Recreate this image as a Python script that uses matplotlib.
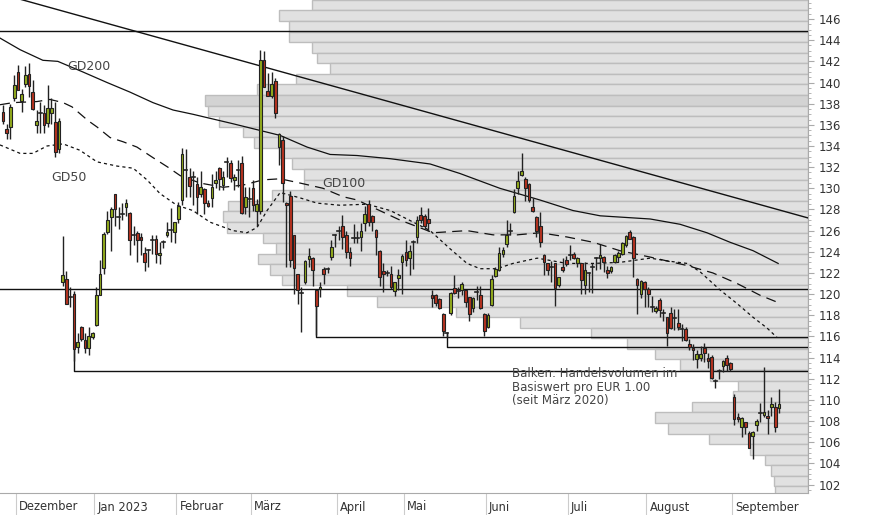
import matplotlib
matplotlib.use("Agg")
import matplotlib.pyplot as plt
from matplotlib.patches import Rectangle
from matplotlib.ticker import MultipleLocator
import pandas as pd
import numpy as np

# ---- data ----
ohlc = [
(137.2,137.9,136.1,136.4),(135.65,136.1,134.7,135.2),(135.8,138.0,134.7,137.7),(138.5,140.7,138.3,139.8),
(141.0,141.7,139.3,139.3),(138.3,139.4,137.2,138.9),(139.9,141.6,139.6,140.7),(140.8,141.8,138.6,139.7),
(139.1,140.2,137.4,137.5),(136.0,137.4,135.2,136.4),(137.1,138.2,135.2,137.1),(137.1,137.9,135.2,136.0),
(136.2,139.8,135.8,137.6),(137.1,138.5,136.1,137.6),(136.3,138.2,133.0,133.4),(133.7,136.6,133.3,136.4),
(121.1,125.5,120.8,121.8),(121.4,122.2,119.1,119.1),(119.7,120.7,118.8,119.7),(120.0,120.3,113.7,114.8),
(115.0,116.3,114.4,115.5),(116.9,117.0,115.6,115.8),(115.7,116.3,114.4,114.9),(114.9,116.9,114.2,116.0),
(115.9,116.4,115.8,116.3),(117.1,120.7,117.0,119.9),(119.9,123.2,119.9,121.9),(122.5,125.9,121.9,125.7),
(125.9,127.9,125.7,127.0),(127.3,128.2,124.1,128.0),(129.5,129.5,126.4,128.0),(127.3,128.2,126.2,127.3),
(127.6,128.6,127.0,127.6),(128.2,129.0,127.4,128.6),(127.7,127.8,123.7,125.1),(125.6,126.4,124.6,125.6),
(125.8,126.0,123.0,125.1),(125.4,125.8,123.7,125.1),(123.9,124.5,122.2,123.0),(124.2,124.3,122.6,124.2),
(125.2,125.6,123.8,125.1),(125.2,125.6,122.9,123.8),(123.7,124.9,122.8,123.9),(124.9,125.1,124.4,124.9),
(125.6,126.8,125.4,125.9),(126.1,128.1,124.9,126.1),(125.9,126.8,124.8,126.8),(127.1,128.7,126.7,128.3),
(128.9,133.8,128.4,133.2),(131.7,133.7,129.2,131.7),(131.1,131.9,129.2,130.2),(131.1,131.6,128.4,131.1),
(130.4,131.1,127.6,129.2),(129.5,131.6,129.2,130.1),(129.9,130.0,127.6,128.6),(128.6,128.9,128.2,128.3),
(129.1,131.4,128.2,130.1),(130.5,131.6,130.0,130.8),(131.9,132.0,129.8,130.9),(130.3,131.6,129.8,131.1),
(132.5,133.0,131.1,132.5),(132.4,132.7,130.6,131.0),(130.8,131.4,129.8,131.1),(131.7,132.7,130.1,131.7),
(132.4,133.1,127.6,127.7),(128.2,130.1,127.6,129.2),(129.0,130.1,127.3,129.0),(130.0,130.8,127.9,128.4),
(127.9,129.0,126.4,128.5),(127.9,143.1,127.6,142.1),(142.1,143.0,139.6,139.6),(139.2,140.9,138.7,138.7),
(138.7,141.0,138.5,139.9),(140.1,140.4,136.6,137.1),(133.9,135.2,132.2,135.1),(134.6,134.9,128.7,130.5),
(128.6,128.7,122.6,128.4),(129.3,129.7,122.6,123.2),(125.6,125.6,120.0,122.5),(121.9,121.9,119.1,120.4),
(120.1,120.7,116.4,120.1),(121.1,123.2,121.0,123.1),(123.3,124.4,122.6,123.6),(123.4,123.5,120.8,122.3),
(120.4,120.4,116.1,118.9),(120.5,121.1,119.7,120.7),(122.4,122.6,121.0,121.9),(122.4,122.6,122.0,122.4),
(123.5,125.1,123.2,124.5),(125.6,125.7,124.5,125.6),(126.0,126.4,125.1,126.0),(126.4,127.5,124.3,125.4),
(125.6,126.0,123.4,124.0),(124.0,124.5,122.7,123.4),(125.2,126.6,124.8,125.3),(125.3,126.0,124.8,125.3),
(125.4,126.7,124.1,126.0),(126.7,128.3,126.0,127.6),(128.5,128.9,126.4,126.8),(127.4,127.5,126.0,126.8),
(126.1,126.2,123.7,125.4),(124.1,124.2,120.8,121.6),(122.2,122.9,120.2,121.9),(122.0,122.3,121.7,122.0),
(121.9,122.7,120.5,120.7),(120.3,121.1,119.8,121.1),(121.5,122.4,120.4,121.8),(123.0,123.8,120.0,123.6),
(124.0,125.1,122.7,123.2),(123.4,124.6,121.8,124.1),(124.9,125.1,122.4,124.9),(125.4,127.4,124.8,127.0),
(127.5,128.2,126.7,127.0),(127.4,127.6,126.2,126.4),(127.1,128.1,126.0,126.7),(119.9,120.4,118.8,119.6),
(119.9,120.0,118.9,119.2),(119.5,119.6,118.6,118.7),(118.1,118.2,116.0,116.5),(116.3,116.4,115.9,116.3),
(118.2,120.2,118.0,120.1),(120.6,121.8,120.0,120.1),(120.3,120.7,119.6,120.3),(120.4,121.1,119.9,121.0),
(120.4,120.4,118.8,119.3),(119.7,119.7,117.5,118.1),(118.7,119.7,118.3,119.6),(120.2,120.8,119.4,120.2),
(119.9,120.8,118.6,118.7),(118.1,118.2,116.0,116.5),(116.9,118.2,116.8,118.0),(119.0,121.8,118.9,121.4),
(121.7,122.6,121.6,122.4),(122.3,124.5,122.2,123.9),(123.8,124.5,123.5,124.2),(124.7,127.0,124.5,125.6),
(126.0,126.7,125.6,126.0),(127.8,129.9,127.7,129.3),(130.0,131.6,129.5,130.7),(131.3,133.3,131.2,131.6),
(130.9,131.1,128.8,130.0),(130.4,130.5,128.7,128.9),(128.2,129.1,127.8,127.9),(127.3,127.4,125.4,126.0),
(126.4,127.8,124.5,124.9),(123.7,123.8,121.8,123.0),(122.9,122.9,121.8,122.3),(122.6,123.1,121.1,122.6),
(122.9,122.9,118.9,120.6),(120.9,121.6,120.7,121.6),(122.6,123.4,122.1,122.3),(123.2,123.6,122.7,122.8),
(123.7,124.6,123.2,123.7),(123.8,124.0,123.3,123.4),(122.9,123.5,122.6,123.4),(122.9,122.9,120.0,121.3),
(120.9,123.0,120.0,122.3),(122.0,122.1,120.2,122.0),(122.6,122.9,120.1,122.6),(123.3,123.5,122.3,123.4),
(123.4,124.7,122.4,123.7),(123.5,123.6,122.1,123.0),(122.3,122.7,121.5,122.0),(122.2,122.7,122.0,122.6),
(123.0,123.8,122.9,123.7),(123.5,124.1,123.0,123.9),(123.8,124.9,123.7,124.8),(124.6,125.6,124.5,125.5),
(125.9,126.1,125.2,125.2),(125.4,125.5,121.6,123.4),(121.4,121.5,118.1,120.9),(120.0,121.3,119.6,121.2),
(121.1,121.2,118.8,120.5),(120.5,120.7,118.8,120.0),(118.8,119.8,118.3,118.8),(118.4,118.9,118.2,118.7),
(119.4,119.6,117.8,118.5),(118.2,118.6,117.5,118.2),(117.8,117.8,115.1,116.3),(118.2,118.8,116.7,116.8),
(117.7,118.6,116.6,117.7),(117.3,118.6,116.6,116.9),(116.7,117.2,115.6,116.7),(116.7,116.9,115.6,115.7),
(115.3,115.8,114.7,115.0),(114.9,115.3,113.8,114.7),(113.9,114.7,113.0,114.3),(114.0,115.1,113.7,114.3),
(114.9,115.4,113.6,114.4),(114.0,114.4,113.0,113.7),(114.1,114.2,112.0,112.1),(111.8,112.0,111.1,111.8),
(112.7,112.9,112.0,112.7),(113.2,113.8,112.6,113.7),(114.0,114.2,112.7,113.3),(113.5,113.6,112.7,112.9),
(110.3,110.6,107.6,108.2),(108.4,108.8,107.9,108.2),(107.4,108.4,106.5,108.3),(107.9,107.9,106.8,107.4),
(106.9,107.1,105.5,105.5),(106.6,107.1,104.4,107.0),(107.6,108.2,107.1,108.0),(108.8,109.7,107.9,108.8),
(108.6,113.1,108.4,108.9),(108.5,109.0,106.8,108.3),(109.3,110.3,108.5,109.6),(109.3,109.8,107.0,107.4),
(109.2,111.0,108.8,109.6),
]

gd200_idx = [-0.8,4.6,10.7,14.7,21.4,27.9,34.0,40.2,45.6,50.9,61.7,74.3,81.5,87.7,94.9,103.8,114.5,122.5,133.2,143.9,152.8,160.1,173.5,181.5,188.7,194.9,201.1,207.8]
gd200_val = [144.2,143.1,142.1,142.0,141.0,140.0,139.1,138.1,137.4,137.0,136.1,135.0,133.9,133.2,133.1,132.8,132.3,131.4,130.0,128.9,127.9,127.4,127.1,126.6,125.8,124.9,124.1,122.9]
gd100_idx = [-0.8,2.7,9.1,12.6,16.1,18.5,22.8,25.2,28.7,32.2,35.9,40.2,44.2,47.5,52.8,59.0,64.3,69.7,74.3,79.6,85.8,91.2,94.9,106.4,115.3,124.4,131.4,137.8,144.0,151.2,158.2,165.4,173.5,183.4,190.3,196.8,202.9,207.8]
gd100_val = [137.9,138.1,138.2,138.4,138.1,137.7,136.4,135.8,134.8,134.4,133.9,132.9,132.0,131.2,130.5,130.1,130.3,130.8,130.9,130.5,130.0,129.2,128.9,127.0,125.8,126.0,125.6,125.6,125.8,125.4,124.9,124.1,123.5,122.7,122.0,121.0,119.9,119.2]
gd50_idx = [-0.8,4.6,8.0,11.8,16.1,20.6,25.2,30.6,34.9,38.6,42.1,46.6,50.9,55.5,61.7,65.4,68.1,70.8,74.3,79.6,84.2,90.3,97.6,103.8,114.5,119.8,124.4,127.9,132.4,136.7,143.2,151.2,158.2,165.4,173.5,178.8,183.4,186.9,192.2,196.8,201.1,204.8,207.5]
gd50_val = [134.1,133.3,133.3,134.0,134.2,133.6,132.5,132.1,131.9,130.8,129.5,128.4,127.9,126.8,126.0,125.8,126.3,127.9,129.6,129.1,128.6,128.4,128.5,127.9,126.0,124.3,122.9,122.4,122.4,122.9,123.4,122.9,122.9,123.0,123.4,123.1,122.9,122.1,120.4,119.1,117.8,116.8,115.9]

trend_idx = [-0.8, 215.8]
trend_val = [148.4, 127.2]

full_levels = [144.87, 120.45]
support_start = [19, 84, 119]
support_top = [120.0, 120.4, 116.3]
support_level = [112.7, 115.95, 115.0]

vol_bin_low = [146.82 - k for k in range(47)]
vol_len = [496,529,519,519,496,491,478,512,551,603,600,589,565,554,528,516,504,504,536,580,585,581,545,532,550,538,526,461,431,352,288,217,181,153,128,98,70,75,116,153,140,99,58,43,37,34,33]

month_labels = ["Dezember","Jan 2023","Februar","März","April","Mai","Juni","Juli","August","September"]

# ---- dates ----
holidays = pd.to_datetime(["2022-12-26","2023-04-07","2023-04-10","2023-05-01"])
dates = pd.bdate_range("2022-11-25","2023-09-30")
dates = dates[~dates.isin(holidays)][:220]
month_pos = []
prev = None
for i, d in enumerate(dates):
    if (d.year, d.month) != prev:
        if i > 0:
            month_pos.append(i)
        prev = (d.year, d.month)
month_pos = month_pos[:len(month_labels)]

fig = plt.figure(figsize=(8.74, 5.15), dpi=100)
ax = fig.add_axes([0, 22/515, 808/874, 493/515])
XMIN, XMAX = -0.8, 215.8
ax.set_xlim(XMIN, XMAX)
ax.set_ylim(101.2, 147.8)

# volume profile
px_per_idx = 808 / (XMAX - XMIN)
for k, (lo, ln) in enumerate(zip(vol_bin_low, vol_len)):
    w = ln / px_per_idx
    fc = '#d3d3d3' if k == 9 else '#e1e1e1'
    ax.add_patch(Rectangle((XMAX - w, lo), w, 1.0, facecolor=fc, edgecolor='#bdbdbd', lw=1.0, zorder=1))

# lines
for lv in full_levels:
    ax.axhline(lv, color='#111111', lw=1.0, zorder=3)
for s, t, lv in zip(support_start, support_top, support_level):
    ax.plot([s, s, XMAX], [t, lv, lv], color='#111111', lw=1.0, zorder=3)
ax.plot(trend_idx, trend_val, color='#111111', lw=1.0, zorder=3)
ax.plot(gd200_idx, gd200_val, color='#111111', lw=0.9, zorder=3)
ax.plot(gd100_idx, gd100_val, color='#111111', lw=0.9, ls=(0, (8, 5)), zorder=3)
ax.plot(gd50_idx, gd50_val, color='#111111', lw=0.9, ls=(0, (2.5, 2.5)), zorder=3)

# candles
for i, (o, h, l, c) in enumerate(ohlc):
    ax.plot([i, i], [l, h], color='#222222', lw=1.0, zorder=4, solid_capstyle='butt')
    if abs(c - o) < 0.15:
        ax.plot([i - 0.4, i + 0.4], [c, c], color='#222222', lw=1.2, zorder=5)
    else:
        col = '#94ad1c' if c > o else '#b8321f'
        ax.add_patch(Rectangle((i - 0.36, min(o, c)), 0.72, abs(c - o), facecolor=col,
                               edgecolor='#222222', lw=0.8, zorder=5))

# labels
tc = '#444444'
ax.text(23, 141.5, "GD200", fontsize=9, color=tc, ha='center', va='center', zorder=6)
ax.text(17.6, 131.0, "GD50", fontsize=9, color=tc, ha='center', va='center', zorder=6)
ax.text(91.5, 130.5, "GD100", fontsize=9, color=tc, ha='center', va='center', zorder=6)
ax.text(136.5, 113.1, "Balken: Handelsvolumen im\nBasiswert pro EUR 1.00\n(seit März 2020)",
        fontsize=8.5, color=tc, ha='left', va='top', linespacing=1.05, zorder=6)

# axes
for sp in ['top', 'left']:
    ax.spines[sp].set_visible(False)
ax.spines['right'].set_color('#aaaaaa')
ax.spines['bottom'].set_color('#aaaaaa')
ax.yaxis.tick_right()
ax.yaxis.set_minor_locator(MultipleLocator(0.5))
ax.set_yticks(np.arange(102, 147, 2))
ax.tick_params(axis='y', which='major', length=4, color='#aaaaaa', labelsize=8.5, labelcolor='#333333', pad=4)
ax.tick_params(axis='y', which='minor', length=2, color='#aaaaaa')
ax.set_xticks([p - 0.5 for p in month_pos])
ax.set_xticklabels([])
ax.tick_params(axis='x', length=20, color='#cccccc', direction='out')
for p, lab in zip(month_pos, month_labels):
    ax.text(p + 0.3, -14/493, lab, transform=ax.get_xaxis_transform(), ha='left', va='center',
            fontsize=8.3, color='#333333')

fig.savefig("out.png", dpi=100)
